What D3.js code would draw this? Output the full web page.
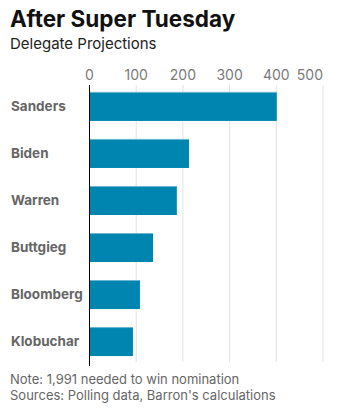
<!DOCTYPE html>
<html><head><meta charset="utf-8">
<script src="https://cdn.jsdelivr.net/npm/d3@7/dist/d3.min.js"></script>
<style>body{margin:0;background:#fff;}svg{display:block;}</style>
</head><body>
<script>
const categories = ["Sanders","Biden","Warren","Buttgieg","Bloomberg","Klobuchar"];
const values = [401, 213, 187, 136, 108, 93];
const tickValues = [0,100,200,300,400,500];
const title = "After Super Tuesday";
const subtitle = "Delegate Projections";
const notes = ["Note: 1,991 needed to win nomination","Sources: Polling data, Barron's calculations"];

const W = 340, H = 412;
const svg = d3.select("body").append("svg").attr("width", W).attr("height", H);
const font = "Inter, 'Open Sans', sans-serif";

const x = d3.scaleLinear().domain([0,500]).range([89.5, 323]);
const y = d3.scaleBand().domain(categories).range([83, 365]).paddingInner(0.383).paddingOuter(0.19);

svg.append("text").attr("x",10).attr("y",27).text(title)
  .attr("font-family",font).attr("font-weight",700).attr("font-size",22.5).attr("fill","#111");
svg.append("text").attr("x",10).attr("y",49).text(subtitle)
  .attr("font-family",font).attr("font-size",15).attr("fill","#222");

// grid
svg.append("g").selectAll("line").data(tickValues.slice(1)).join("line")
  .attr("x1",d=>x(d)).attr("x2",d=>x(d)).attr("y1",85).attr("y2",362)
  .attr("stroke","#e2e2e2").attr("stroke-width",1);

// tick labels
svg.append("g").selectAll("text").data(tickValues).join("text")
  .attr("x",d=>x(d)).attr("y",80)
  .attr("text-anchor",d=> d===500 ? "end" : "middle")
  .attr("font-family",font).attr("font-size",14).attr("fill","#7a7a7a")
  .text(d=>d);

// bars
svg.append("g").selectAll("rect").data(categories).join("rect")
  .attr("x",x(0)).attr("y",d=>y(d)).attr("height",y.bandwidth())
  .attr("width",(d,i)=>x(values[i])-x(0)).attr("fill","#0085b0");
svg.append("g").selectAll("line").data(categories).join("line")
  .attr("x1",x(0)).attr("x2",(d,i)=>x(values[i])).attr("y1",d=>y(d)+0.5).attr("y2",d=>y(d)+0.5)
  .attr("stroke","#6fb8d3").attr("stroke-width",1);

// category labels
svg.append("g").selectAll("text").data(categories).join("text")
  .attr("x",11).attr("y",d=>y(d)+y.bandwidth()/2).attr("dy","0.35em")
  .attr("font-family",font).attr("font-weight",700).attr("font-size",13.5).attr("fill","#666")
  .text(d=>d);

// axis line
svg.append("line").attr("x1",x(0)).attr("x2",x(0)).attr("y1",85).attr("y2",366)
  .attr("stroke","#000").attr("stroke-width",1);

svg.append("g").selectAll("text").data(notes).join("text")
  .attr("x",10).attr("y",(d,i)=>384+i*16)
  .attr("font-family",font).attr("font-size",13).attr("fill","#666").text(d=>d);
</script>
</body></html>
